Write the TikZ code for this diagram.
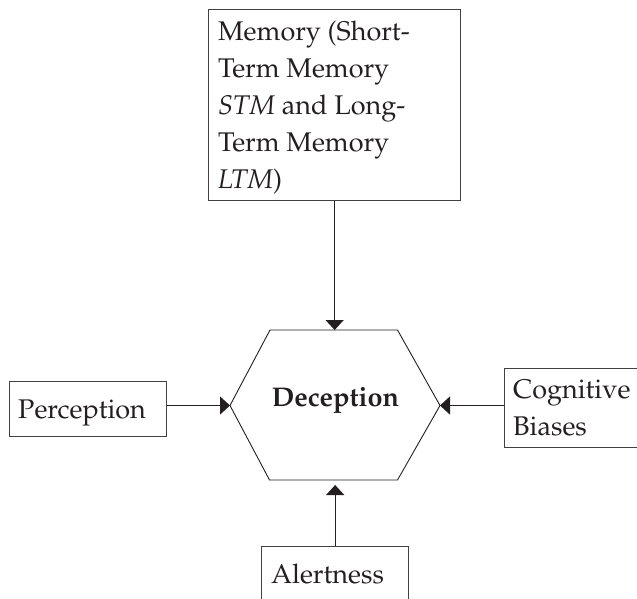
\documentclass[tikz,border=0pt]{standalone}
\usepackage[T1]{fontenc}
\renewcommand{\rmdefault}{ppl}
\usetikzlibrary{arrows.meta}
\definecolor{ink}{HTML}{231F20}
\begin{document}
\begin{tikzpicture}[x=1pt,y=-1pt,
  box/.style={draw=ink!85, line width=1.3pt, inner sep=0pt, anchor=north west},
  lbl/.style={anchor=base west, inner sep=0pt, text=ink, align=left,
    font=\fontsize{27}{37}\selectfont},
  arr/.style={draw=ink, line width=1.3pt, -{Triangle[length=10pt,width=18pt]}},
  hexline/.style={draw=ink, line width=0.9pt, line join=miter}]
\useasboundingbox (0,0) rectangle (637,598);
\clip (0,0) rectangle (637,598);

% boxes
\node[box, minimum width=252pt, minimum height=191pt] (mem) at (208,9) {};
\node[box, minimum width=157pt, minimum height=55pt] (perc) at (9,381) {};
\node[box, minimum width=150pt, minimum height=79pt] (cog) at (504,368) {};
\node[box, minimum width=147pt, minimum height=70pt] (alert) at (261,546) {};

% box texts (multi-line texts are anchored at the baseline of their last line)
\node[lbl] (memtxt) at (218,188) {Memory (Short-\\Term Memory\\\textit{STM} and Long-\\Term Memory\\\textit{LTM})};
\node[lbl] (perctxt) at (18,418) {Perception};
\node[lbl] (cogtxt) at (513,435.5) {Cognitive\\Biases};
\node[lbl] (alerttxt) at (271,583) {Alertness};

% hexagon
\coordinate (hL) at (230,405.5);
\coordinate (hTL) at (270,330);
\coordinate (hTR) at (397.5,330);
\coordinate (hR) at (440,405.5);
\coordinate (hBR) at (397.5,480);
\coordinate (hBL) at (269.5,480);
\coordinate (hT) at (335,330);
\coordinate (hB) at (335,485);
\draw[hexline] (hL) -- (hTL) -- (hTR) -- (hR) -- (hBR) -- (hBL) -- cycle;
\node[lbl, anchor=base, font=\fontsize{27}{37}\selectfont\bfseries] (dec) at (335.5,406.5) {Deception};

% connectors
\draw[arr] (mem.south) -- (mem.south |- hT);
\draw[arr] (perc.east |- hL) -- (hL);
\draw[arr] (cog.west |- hR) -- (hR);
\draw[arr] (alert.north) -- (alert.north |- hB);
\end{tikzpicture}
\end{document}
